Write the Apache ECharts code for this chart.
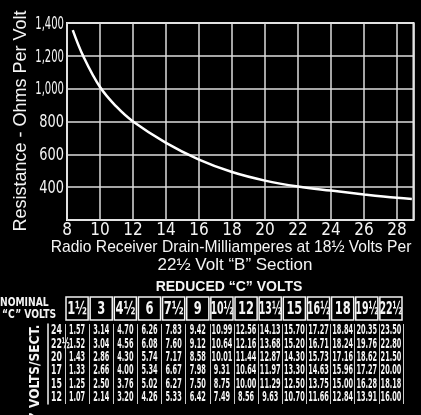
<!DOCTYPE html>
<html>
<head>
<meta charset="utf-8">
<script src="https://cdn.jsdelivr.net/npm/echarts@6/dist/echarts.min.js"></script>
<style>
html, body { margin: 0; padding: 0; background: #000; }
#chart { width: 421px; height: 415px; }
</style>
</head>
<body>
<div id="chart"></div>
<script>
// Receiver drain current (mA) and the matching resistance (ohms per volt)
const drainMa = [8.35, 9, 10, 11, 12, 14, 16, 18, 20, 22, 24, 26, 28, 28.9];
const ohmsPerVolt = [1357, 1195, 1010, 890, 800, 670, 568, 492, 440, 404, 379, 356, 335, 328];

// Resistance axis tick values and their printed labels
const yTickValues = [400, 600, 800, 1000, 1200, 1400];
const yTickLabels = ['400', '600', '800', '1,000', '1,200', '1,400'];

// Table: nominal "C" volts (columns), "B" volts per section (rows), reduced "C" volts (cells)
const cVolts = ['1½', '3', '4½', '6', '7½', '9', '10½', '12', '13½', '15', '16½', '18', '19½', '22½'];
const bVolts = ['24', '22½', '20', '17', '15', '12'];
const row24  = ['1.57', '3.14', '4.70', '6.26', '7.83', '9.42', '10.99', '12.56', '14.13', '15.70', '17.27', '18.84', '20.35', '23.50'];
const row22h = ['1.52', '3.04', '4.56', '6.08', '7.60', '9.12', '10.64', '12.16', '13.68', '15.20', '16.71', '18.24', '19.76', '22.80'];
const row20  = ['1.43', '2.86', '4.30', '5.74', '7.17', '8.58', '10.01', '11.44', '12.87', '14.30', '15.73', '17.16', '18.62', '21.50'];
const row17  = ['1.33', '2.66', '4.00', '5.34', '6.67', '7.98', '9.31', '10.64', '11.97', '13.30', '14.63', '15.96', '17.27', '20.00'];
const row15  = ['1.25', '2.50', '3.76', '5.02', '6.27', '7.50', '8.75', '10.00', '11.29', '12.50', '13.75', '15.00', '16.28', '18.18'];
const row12  = ['1.07', '2.14', '3.20', '4.26', '5.33', '6.42', '7.49', '8.56', '9.63', '10.70', '11.66', '12.84', '13.91', '16.00'];
const tableRows = [row24, row22h, row20, row17, row15, row12];

const COND = '"DejaVu Sans Condensed", "DejaVu Sans", sans-serif';
const SANS = '"Liberation Sans", "DejaVu Sans", sans-serif';
const WHITE = '#f4f4f4';

const curveData = drainMa.map((x, i) => [x, ohmsPerVolt[i]]);
const yLabelData = yTickValues.map((v, i) => [8, v, yTickLabels[i]]);
const headerCells = cVolts.map((c, i) => [i, 0, c]);
const rowLabelCells = bVolts.map((b, i) => [0, i, b]);
const bodyCells = [];
tableRows.forEach((row, r) => row.forEach((v, c) => bodyCells.push([c, r, v])));

const chart = echarts.init(document.getElementById('chart'), null, { renderer: 'canvas' });

chart.setOption({
  backgroundColor: '#000',
  animation: false,
  grid: [
    { left: 67, top: 23, width: 346.5, height: 197, show: true, borderColor: WHITE, borderWidth: 2, backgroundColor: 'transparent' },
    { left: 65, top: 297, width: 338, height: 23 },
    { left: 65, top: 324, width: 338, height: 80 }
  ],
  xAxis: [
    {
      gridIndex: 0, type: 'value', min: 8, max: 29, interval: 2,
      axisLine: { show: false }, axisTick: { show: false },
      splitLine: { show: true, lineStyle: { color: '#dcdcdc', width: 1.5 } },
      axisLabel: { color: WHITE, fontFamily: COND, fontSize: 17, margin: 2, showMaxLabel: false }
    },
    { gridIndex: 1, type: 'category', data: cVolts, show: false },
    {
      gridIndex: 2, type: 'category', data: cVolts,
      axisLine: { show: false }, axisTick: { show: false }, axisLabel: { show: false },
      splitLine: { show: true, interval: 0, lineStyle: { color: '#c8c8c8', width: 1 } }
    }
  ],
  yAxis: [
    {
      gridIndex: 0, type: 'value', min: 200, max: 1400, interval: 200,
      axisLine: { show: false }, axisTick: { show: false }, axisLabel: { show: false },
      splitLine: { show: true, lineStyle: { color: '#dcdcdc', width: 1.5 } }
    },
    { gridIndex: 1, type: 'category', data: ['h'], show: false },
    {
      gridIndex: 2, type: 'category', data: bVolts, inverse: true, offset: 17,
      axisLine: { show: true, lineStyle: { color: WHITE, width: 1.5 } },
      axisTick: { show: false }, axisLabel: { show: false }
    }
  ],
  series: [
    {
      type: 'line', xAxisIndex: 0, yAxisIndex: 0, data: curveData,
      smooth: 0.4, showSymbol: false,
      lineStyle: { color: '#ffffff', width: 2.5 }
    },
    {
      // condensed resistance tick labels beside the plot
      type: 'custom', xAxisIndex: 0, yAxisIndex: 0, data: yLabelData, clip: false,
      encode: { x: 0, y: 1 },
      renderItem: function (params, api) {
        const p = api.coord([api.value(0), api.value(1)]);
        const label = yLabelData[params.dataIndex][2];
        return {
          type: 'text', x: p[0] - 3, y: p[1] + 1, scaleX: label.length > 3 ? 0.62 : 0.8,
          style: { text: label, fill: WHITE, font: '18px ' + COND, align: 'right', verticalAlign: 'middle' }
        };
      }
    },
    {
      type: 'custom', xAxisIndex: 1, yAxisIndex: 1, data: headerCells,
      encode: { x: 0, y: 1 },
      renderItem: function (params, api) {
        const p = api.coord([api.value(0), api.value(1)]);
        const s = api.size([1, 1]);
        const label = headerCells[params.dataIndex][2];
        return {
          type: 'group',
          children: [
            {
              type: 'rect',
              shape: { x: p[0] - s[0] / 2 + 1, y: p[1] - s[1] / 2, width: s[0] - 2, height: s[1] },
              style: { fill: '#000', stroke: WHITE, lineWidth: 1.5 }
            },
            {
              type: 'text', x: p[0], y: p[1] + 1, scaleX: label.length > 2 ? 0.62 : 0.75,
              style: { text: label, fill: WHITE, font: 'bold 17px ' + COND, align: 'center', verticalAlign: 'middle' }
            }
          ]
        };
      }
    },
    {
      // "B" volts row labels to the left of the first column
      type: 'custom', xAxisIndex: 2, yAxisIndex: 2, data: rowLabelCells, clip: false,
      encode: { x: 0, y: 1 },
      renderItem: function (params, api) {
        const p = api.coord([api.value(0), api.value(1)]);
        const s = api.size([1, 1]);
        const label = rowLabelCells[params.dataIndex][2];
        return {
          type: 'text', x: p[0] - s[0] / 2 - 14, y: p[1], scaleX: 0.62,
          style: { text: label, fill: WHITE, font: 'bold 14px ' + COND, align: 'left', verticalAlign: 'middle' }
        };
      }
    },
    {
      type: 'custom', xAxisIndex: 2, yAxisIndex: 2, data: bodyCells,
      encode: { x: 0, y: 1 },
      renderItem: function (params, api) {
        const p = api.coord([api.value(0), api.value(1)]);
        const label = bodyCells[params.dataIndex][2];
        return {
          type: 'text', x: p[0], y: p[1], scaleX: 0.52,
          style: { text: label, fill: WHITE, font: 'bold 14px ' + COND, align: 'center', verticalAlign: 'middle' }
        };
      }
    }
  ],
  graphic: [
    {
      type: 'text', x: 21, y: 121, rotation: Math.PI / 2,
      style: { text: 'Resistance - Ohms Per Volt', fill: WHITE, font: '18px ' + SANS, align: 'center', verticalAlign: 'middle' }
    },
    {
      type: 'text', x: 231, y: 247, scaleX: 0.92,
      style: { text: 'Radio Receiver Drain-Milliamperes at 18½ Volts Per', fill: WHITE, font: '17px ' + SANS, align: 'center', verticalAlign: 'middle' }
    },
    {
      type: 'text', x: 235, y: 265,
      style: { text: '22½ Volt “B” Section', fill: WHITE, font: '17px ' + SANS, align: 'center', verticalAlign: 'middle' }
    },
    {
      type: 'text', x: 229, y: 287,
      style: { text: 'REDUCED “C” VOLTS', fill: WHITE, font: 'bold 14px ' + SANS, align: 'center', verticalAlign: 'middle' }
    },
    {
      type: 'text', x: 0, y: 303, scaleX: 0.85,
      style: { text: 'NOMINAL', fill: WHITE, font: 'bold 12px ' + COND, align: 'left', verticalAlign: 'middle' }
    },
    {
      type: 'text', x: 2, y: 315, scaleX: 0.85,
      style: { text: '“C” VOLTS', fill: WHITE, font: 'bold 12px ' + COND, align: 'left', verticalAlign: 'middle' }
    },
    {
      type: 'text', x: 35, y: 381, rotation: Math.PI / 2,
      style: { text: '“B” VOLTS/SECT.', fill: WHITE, font: 'bold 13.5px ' + COND, align: 'center', verticalAlign: 'middle' }
    }
  ]
});
</script>
</body>
</html>
